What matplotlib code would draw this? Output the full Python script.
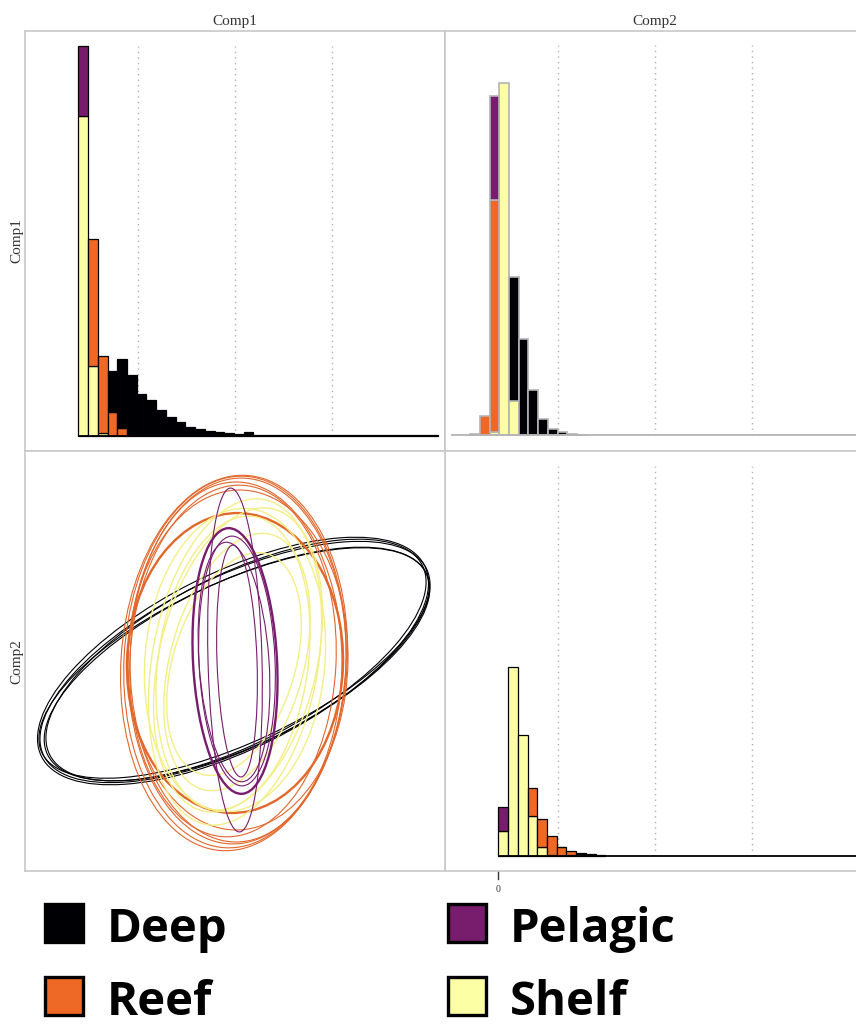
import numpy as np
import matplotlib.pyplot as plt
from matplotlib.patches import Ellipse, Rectangle

# habitat groups, stacked bottom -> top in the histograms
GROUPS = ["Shelf", "Reef", "Pelagic", "Deep"]
COLORS = {"Deep": "#000004", "Pelagic": "#781c6d", "Reef": "#ed6925", "Shelf": "#fcffa4"}
LINE_COLORS = {"Deep": "#000004", "Pelagic": "#781c6d", "Reef": "#e2672b", "Shelf": "#f3ef86"}

BIN_W = 0.1
GRID_X = [0.61, 1.61, 2.61]

# Comp1 histogram (top left), bins start at 0
TL_START = 0.0
TL_SHELF = [320, 70, 3, 0, 0, 0, 0, 0, 0, 0, 0, 0, 0, 0, 0, 0, 0, 0, 0, 0, 0, 0, 0, 0, 0, 0, 0, 0, 0, 0, 0, 0, 0, 0, 0, 0, 0]
TL_REEF = [0, 127, 77, 24, 8, 2, 0, 0, 0, 0, 0, 0, 0, 0, 0, 0, 0, 0, 0, 0, 0, 0, 0, 0, 0, 0, 0, 0, 0, 0, 0, 0, 0, 0, 0, 0, 0]
TL_PELAGIC = [70, 0, 0, 0, 0, 0, 0, 0, 0, 0, 0, 0, 0, 0, 0, 0, 0, 0, 0, 0, 0, 0, 0, 0, 0, 0, 0, 0, 0, 0, 0, 0, 0, 0, 0, 0, 0]
TL_DEEP = [0, 0, 0, 41, 69, 59, 42, 36, 26, 19, 14, 9, 7, 5, 4, 3, 2.3, 3.7,
           1.5, 1.5, 1.5, 1.5, 1.5, 1.2, 1.2, 1.0, 0.8, 0.8, 0.8, 0.8, 0.8, 0.6, 0.6, 0.6, 0.6, 0.6, 0.6]

# top right histogram
TR_START = -0.29
TR_SHELF = [1.5, 0, 3, 352, 34, 0, 0, 0, 0, 0, 0, 0]
TR_REEF = [0, 19, 232, 0, 0, 0, 0, 0, 0, 0, 0, 0]
TR_PELAGIC = [0, 0, 104, 0, 0, 0, 0, 0, 0, 0, 0, 0]
TR_DEEP = [0, 0, 0, 0, 124, 96, 45, 16, 6, 3.3, 1, 0.5]

# Comp2 histogram (bottom right)
BR_START = 0.0
BR_SHELF = [25, 189, 121, 40, 9, 1, 0, 1, 0, 0, 0]
BR_REEF = [0, 0, 0, 28, 28, 19, 9, 4, 2, 0.8, 0]
BR_PELAGIC = [24, 0, 0, 0, 0, 0, 0, 0, 0, 0, 0]
BR_DEEP = [0, 0, 0, 0, 0, 0, 0.5, 0, 1, 1, 0.8]

# ellipses (Comp1 vs Comp2): x, y, width, height, angle
DEEP_ELL = [(0, 0, 426, 170, 26), (2, -2, 420, 164, 25.5), (-2, 1, 428, 176, 26.5),
            (1, 2, 418, 168, 27), (-1, -1, 424, 160, 25)]
REEF_ELL = [(0, 0, 222, 372, -3), (2, 1, 218, 366, -2), (-1, -1, 226, 376, -4),
            (1, 0, 212, 360, 0), (0, -1, 216, 300, -2), (-2, 1, 206, 352, -3), (3, 2, 220, 340, -1)]
SHELF_ELL = [(0, 0, 166, 330, -10), (3, 2, 158, 310, -13), (-2, -1, 150, 296, -8),
             (2, 0, 134, 264, -15), (0, 2, 180, 304, -5), (-1, -2, 122, 230, -17)]
PELAGIC_ELL = [(0, 1, 84, 266, 3), (2, 1, 76, 250, 2.5), (2, 1, 40, 232, 2),
               (0, 2, 54, 344, 1.5), (-1, 0, 70, 240, 4)]
THICK = {"Deep": [], "Reef": [4], "Shelf": [], "Pelagic": [0]}

W, H = 856, 1028
fig = plt.figure(figsize=(W / 100, H / 100), dpi=100)


def px_axes(x0, y0, w, h):
    ax = fig.add_axes([x0 / W, 1 - (y0 + h) / H, w / W, h / H])
    ax.set_xticks([])
    ax.set_yticks([])
    for s in ax.spines.values():
        s.set_color("#c8c8c8")
        s.set_linewidth(1.2)
    return ax


def hist_panel(ax, start, cols, edge, lw, base_col, base_from, ylo):
    ax.set_xlim(-0.548, 3.769)
    ax.set_ylim(ylo, ylo + 420)
    ax.vlines(GRID_X, 0, 390, colors="#b0b0b0", linestyles=(0, (1, 3)), linewidth=1, zorder=1)
    n = len(cols[0])
    x = start + BIN_W * np.arange(n)
    bottom = np.zeros(n)
    for vals, g in zip(cols, GROUPS):
        vals = np.asarray(vals, float)
        m = vals > 0
        ax.bar(x[m], vals[m], width=BIN_W, bottom=bottom[m], align="edge",
               color=COLORS[g], edgecolor=edge, linewidth=lw, zorder=3)
        bottom += vals
    ax.hlines(0, base_from[0], base_from[1], colors=base_col, linewidth=1.3, zorder=4)


ax_tl = px_axes(25, 31, 420, 420)
hist_panel(ax_tl, TL_START, [TL_SHELF, TL_REEF, TL_PELAGIC, TL_DEEP], "black", 0.9,
           "black", (0, 3.7), -15)

ax_tr = px_axes(445, 31, 420, 420)
hist_panel(ax_tr, TR_START, [TR_SHELF, TR_REEF, TR_PELAGIC, TR_DEEP], "#b4b4b4", 1.2,
           "#b4b4b4", (-0.49, 3.769), -16)

ax_br = px_axes(445, 451, 420, 420)
hist_panel(ax_br, BR_START, [BR_SHELF, BR_REEF, BR_PELAGIC, BR_DEEP], "black", 0.9,
           "black", (0, 3.769), -15)

ax_bl = px_axes(25, 451, 420, 420)
ax_bl.set_xlim(-210, 210)
ax_bl.set_ylim(-209, 211)
for g, ells in [("Deep", DEEP_ELL), ("Reef", REEF_ELL), ("Shelf", SHELF_ELL), ("Pelagic", PELAGIC_ELL)]:
    for i, (cx, cy, w, h, a) in enumerate(ells):
        lw = 1.7 if i in THICK[g] else (1.0 if g == "Shelf" else 0.8)
        ax_bl.add_patch(Ellipse((cx, cy), w, h, angle=a, fill=False,
                                edgecolor=LINE_COLORS[g], linewidth=lw))

# overlay in pixel coordinates for labels and legend
ov = fig.add_axes([0, 0, 1, 1])
ov.set_xlim(0, W)
ov.set_ylim(H, 0)
ov.axis("off")
ov.patch.set_alpha(0)

serif = "Liberation Serif"
ov.text(235, 22, "Comp1", ha="center", va="center", fontsize=11, family=serif, color="#333333")
ov.text(655, 22, "Comp2", ha="center", va="center", fontsize=11, family=serif, color="#333333")
ov.text(17, 241, "Comp1", ha="center", va="center", rotation=90, fontsize=11, family=serif, color="#333333")
ov.text(17, 662, "Comp2", ha="center", va="center", rotation=90, fontsize=11, family=serif, color="#333333")
ov.plot([498, 498], [872, 879], color="#333333", linewidth=1)
ov.text(498, 889, "0", ha="center", va="center", fontsize=7, family=serif, color="#333333")

legend_items = [("Deep", 44, 902), ("Pelagic", 447, 902), ("Reef", 44, 975), ("Shelf", 447, 975)]
for g, lx, ly in legend_items:
    ov.add_patch(Rectangle((lx + 1.5, ly + 1.5), 38, 38, facecolor=COLORS[g],
                           edgecolor="black", linewidth=2.4))
    ov.text(lx + 63, ly + 40, g, ha="left", va="baseline", fontsize=34,
            family=["Open Sans", "DejaVu Sans"], fontweight="bold", color="black")

plt.savefig("out.png", dpi=100)
